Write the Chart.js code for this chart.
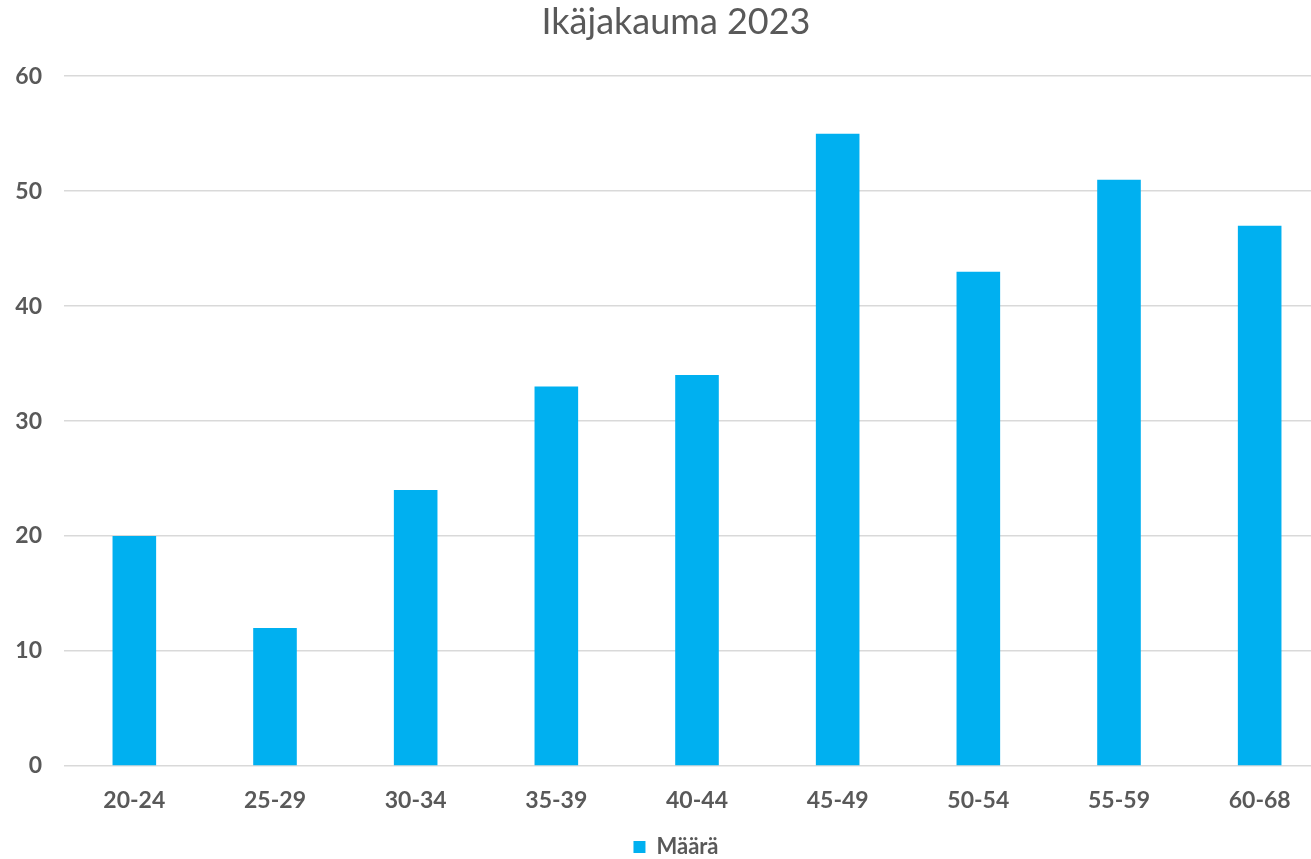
<!DOCTYPE html>
<html lang="fi">
<head>
    <meta charset="UTF-8">
    <title>Ikäjakauma 2023</title>
    <script src="https://cdn.jsdelivr.net/npm/chart.js@4.4.0/dist/chart.umd.min.js"></script>
    <style>
        html, body { margin: 0; padding: 0; background: #fff; overflow: hidden; }
        #wrap { width: 1311px; height: 859px; overflow: hidden; }
    </style>
</head>
<body>
    <div id="wrap"><canvas id="myCanvas" width="1352" height="870"></canvas></div>
    <script>
        const categories = ["20-24", "25-29", "30-34", "35-39", "40-44", "45-49", "50-54", "55-59", "60-68"];
        const maara = [20, 12, 24, 33, 34, 55, 43, 51, 47];
        const seriesName = "Määrä";
        const chartTitle = "Ikäjakauma 2023";

        const grey = '#595959';

        var ctx = document.getElementById('myCanvas').getContext('2d');
        let myChart = new Chart(ctx, {
            type: 'bar',
            data: {
                labels: categories,
                datasets: [{
                    label: seriesName,
                    data: maara,
                    backgroundColor: '#00B0F0',
                    borderWidth: 0,
                    barPercentage: 0.31,
                    categoryPercentage: 1
                }]
            },
            options: {
                responsive: false,
                animation: false,
                layout: { padding: { left: 0, right: 0, top: 0, bottom: 2 } },
                plugins: {
                    title: {
                        display: true,
                        text: chartTitle,
                        color: grey,
                        font: { family: 'Lato', size: 36, weight: 'normal' },
                        padding: { top: 1, bottom: 32 }
                    },
                    legend: {
                        position: 'bottom',
                        labels: {
                            color: grey,
                            font: { family: 'Lato', size: 22, weight: 'bold' },
                            boxWidth: 12,
                            boxHeight: 12,
                            padding: 0
                        }
                    },
                    tooltip: { enabled: false }
                },
                scales: {
                    x: {
                        grid: { display: false },
                        border: { display: false },
                        ticks: {
                            color: grey,
                            font: { family: 'Lato', size: 23, weight: 'bold' },
                            padding: 13
                        },
                        afterFit: function(scale) { scale.height = 70; }
                    },
                    y: {
                        min: 0,
                        max: 60,
                        ticks: {
                            stepSize: 10,
                            color: grey,
                            font: { family: 'Lato', size: 23, weight: 'bold' },
                            padding: 22
                        },
                        grid: { color: '#D9D9D9', lineWidth: 1.5, drawTicks: false },
                        border: { display: false },
                        afterFit: function(scale) { scale.width = 64; }
                    },
                    // empty right axis, only keeps a margin on the right
                    yRight: {
                        position: 'right',
                        grid: { display: false },
                        border: { display: false },
                        ticks: { display: false },
                        afterFit: function(scale) { scale.width = 22; }
                    }
                }
            }
        });
    </script>
</body>
</html>
